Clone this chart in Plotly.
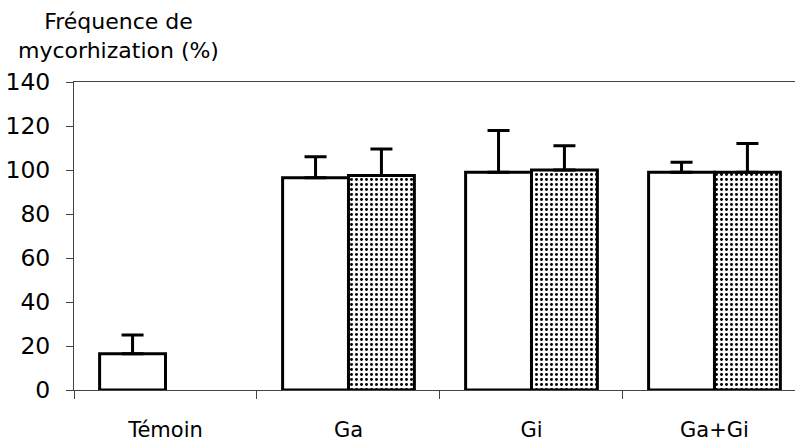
import plotly.graph_objects as go

# Treatments along the x axis
categories = ["Témoin", "Ga", "Gi", "Ga+Gi"]

# Mycorrhization frequency (%) — open bars and dotted bars
open_values = [16.5, 96.5, 99, 99]
open_errors = [8.5, 9.5, 19, 4.5]

dotted_values = [None, 97.5, 100, 99]
dotted_errors = [None, 12, 11, 13]

y_ticks = [0, 20, 40, 60, 80, 100, 120, 140]

FONT = "DejaVu Sans"
INK = "black"

fig = go.Figure()

fig.add_trace(go.Bar(
    x=categories,
    y=open_values,
    marker=dict(color="white", line=dict(color=INK, width=3)),
    error_y=dict(type="data", symmetric=False, array=open_errors,
                 arrayminus=[0] * len(open_errors),
                 color=INK, thickness=3, width=11),
    showlegend=False,
))

fig.add_trace(go.Bar(
    x=categories,
    y=dotted_values,
    marker=dict(color="white", line=dict(color=INK, width=3),
                pattern=dict(shape=".", fgcolor=INK, bgcolor="white",
                             size=5, solidity=0.27, fillmode="replace")),
    error_y=dict(type="data", symmetric=False,
                 array=[e if e is not None else 0 for e in dotted_errors],
                 arrayminus=[0] * len(dotted_errors),
                 color=INK, thickness=3, width=11),
    showlegend=False,
))

fig.update_layout(
    width=795, height=443,
    margin=dict(l=74, r=0, t=82, b=53),
    paper_bgcolor="white", plot_bgcolor="white",
    barmode="group", bargap=0.28, bargroupgap=0,
    font=dict(family=FONT, color=INK),
    xaxis=dict(
        type="category",
        range=[-0.5, 3.44],
        showline=True, linecolor="#444", linewidth=1, mirror=True,
        ticks="outside", tickson="boundaries", ticklen=8, tickcolor="#444",
        showgrid=False, zeroline=False,
        tickfont=dict(size=21, family=FONT),
        ticklabelstandoff=21,
    ),
    yaxis=dict(
        range=[0, 140],
        tickvals=y_ticks,
        showline=True, linecolor="#444", linewidth=1,
        ticks="outside", ticklen=7, tickcolor="#444",
        showgrid=False, zeroline=False,
        tickfont=dict(size=23.5, family=FONT),
        ticklabelstandoff=11,
    ),
    annotations=[dict(
        text="Fréquence de<br>mycorhization (%)",
        xref="paper", yref="paper",
        x=(118 - 74) / 721, y=1 + 17 / 308,
        xanchor="center", yanchor="bottom", align="center",
        showarrow=False,
        font=dict(size=22, family=FONT, color=INK),
    )],
)

fig.write_html("out.html")
